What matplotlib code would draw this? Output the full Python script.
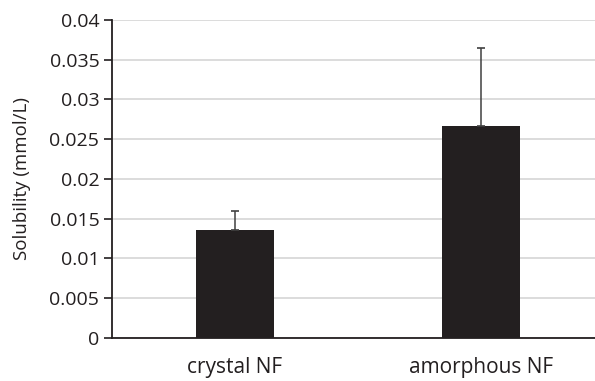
import numpy as np
import matplotlib.pyplot as plt

categories = ["crystal NF", "amorphous NF"]
solubility = [0.0136, 0.0266]
errors = [0.0023, 0.0099]

plt.rcParams['font.family'] = ['Open Sans', 'DejaVu Sans']

fig = plt.figure(figsize=(5.95, 3.81), dpi=100)
ax = fig.add_axes([0.188, 0.113, 0.827, 0.835])

x = np.arange(len(categories))
ax.bar(x, solubility, width=0.317, color='#231f20', zorder=3)
ax.errorbar(x, solubility, yerr=[np.zeros(len(errors)), errors], fmt='none',
            ecolor='#404040', elinewidth=1.1, capsize=3, capthick=1.2, zorder=4)

ax.set_xlim(-0.5, 1.5)
ax.set_ylim(0, 0.04)
ax.set_yticks(np.arange(0, 0.0401, 0.005))
ax.set_yticklabels(["0", "0.005", "0.01", "0.015", "0.02", "0.025", "0.03", "0.035", "0.04"])
ax.set_xticks(x)
ax.set_xticklabels(categories, fontsize=15, color='#231f20')
ax.tick_params(axis='x', length=0, pad=14)
ax.tick_params(axis='y', length=6, width=1.2, labelsize=14, color='#231f20', labelcolor='#231f20', pad=3)
ax.yaxis.grid(True, color='#d9d9d9', linewidth=1.3, zorder=0)
ax.set_axisbelow(True)
ax.set_ylabel("Solubility (mmol/L)", fontsize=13.5, color='#231f20', labelpad=13)

for s in ['top', 'right']:
    ax.spines[s].set_visible(False)
for s in ['left', 'bottom']:
    ax.spines[s].set_linewidth(1.3)
    ax.spines[s].set_color('#231f20')

fig.savefig("out.png", dpi=100)
